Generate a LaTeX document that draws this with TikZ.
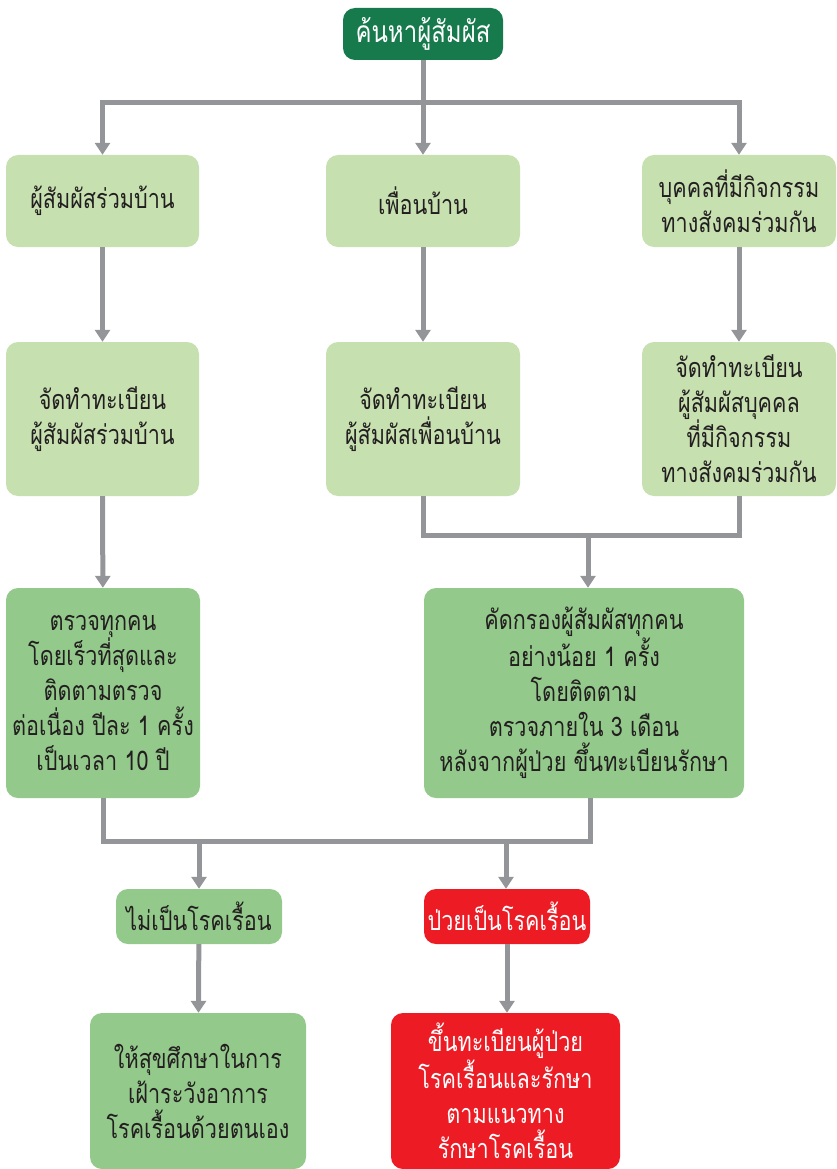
\documentclass[tikz,border=0pt]{standalone}
\usepackage{fontspec}
\usetikzlibrary{arrows.meta}
\newfontfamily\thai[Script=Thai,FakeStretch=0.8]{Loma}
\definecolor{dkgreen}{HTML}{177A4C}
\definecolor{ltgreen}{HTML}{C6E0B0}
\definecolor{mdgreen}{HTML}{93C98A}
\definecolor{rred}{HTML}{ED1C24}
\definecolor{lgray}{HTML}{939598}
\definecolor{txt}{HTML}{231F20}
\tikzset{
  box/.style={rounded corners=12pt, inner sep=0pt, align=center, text=txt,
    font=\thai\fontsize{27}{35}\selectfont},
  lbox/.style={box, fill=ltgreen},
  mbox/.style={box, fill=mdgreen},
  rbox/.style={box, fill=rred, text=white},
  conn/.style={draw=lgray, line width=5pt, line join=miter},
  arr/.style={conn, -{Triangle[width=15pt,length=12pt]}},
}
\begin{document}
\begin{tikzpicture}[x=1pt,y=-1pt]
\useasboundingbox (0,0) rectangle (837,1169);
\node[box, fill=dkgreen, text=white, minimum width=160pt, minimum height=52pt, font=\thai\fontsize{30}{35}\selectfont] (top) at (423,34) {ค้นหาผู้สัมผัส};
\node[lbox, minimum width=193pt, minimum height=92pt] (a1) at (102.5,201) {ผู้สัมผัสร่วมบ้าน};
\node[lbox, minimum width=194pt, minimum height=92pt] (a2) at (423,201) {เพื่อนบ้าน};
\node[lbox, minimum width=194pt, minimum height=92pt] (a3) at (739,201) {บุคคลที่มีกิจกรรม\\ทางสังคมร่วมกัน};
\node[lbox, minimum width=193pt, minimum height=154pt] (b1) at (102.5,419) {จัดทำทะเบียน\\ผู้สัมผัสร่วมบ้าน};
\node[lbox, minimum width=194pt, minimum height=154pt] (b2) at (423,419) {จัดทำทะเบียน\\ผู้สัมผัสเพื่อนบ้าน};
\node[lbox, minimum width=194pt, minimum height=154pt] (b3) at (739,419) {จัดทำทะเบียน\\ผู้สัมผัสบุคคล\\ที่มีกิจกรรม\\ทางสังคมร่วมกัน};
\node[mbox, minimum width=194pt, minimum height=210pt] (c1) at (103,693) {ตรวจทุกคน\\โดยเร็วที่สุดและ\\ติดตามตรวจ\\ต่อเนื่อง ปีละ 1 ครั้ง\\เป็นเวลา 10 ปี};
\node[mbox, minimum width=320pt, minimum height=210pt] (c2) at (584,693) {คัดกรองผู้สัมผัสทุกคน\\อย่างน้อย 1 ครั้ง\\โดยติดตาม\\ตรวจภายใน 3 เดือน\\หลังจากผู้ป่วย ขึ้นทะเบียนรักษา};
\node[mbox, minimum width=166pt, minimum height=55pt] (d1) at (199,916.5) {ไม่เป็นโรคเรื้อน};
\node[rbox, minimum width=166pt, minimum height=55pt] (d2) at (507,916.5) {ป่วยเป็นโรคเรื้อน};
\node[mbox, minimum width=216pt, minimum height=156pt] (e1) at (198,1091) {ให้สุขศึกษาในการ\\เฝ้าระวังอาการ\\โรคเรื้อนด้วยตนเอง};
\node[rbox, minimum width=229pt, minimum height=156pt] (e2) at (505.5,1091) {ขึ้นทะเบียนผู้ป่วย\\โรคเรื้อนและรักษา\\ตามแนวทาง\\รักษาโรคเรื้อน};
% connectors
\coordinate (j1) at (423,103);
\draw[conn] (top.south) -- (j1);
\draw[arr] (j1) -| (a1.north);
\draw[arr] (j1) -- (a2.north);
\draw[arr] (j1) -| (a3.north);
\draw[arr] (a1) -- (b1);
\draw[arr] (a2) -- (b2);
\draw[arr] (a3) -- (b3);
\draw[arr] (b1) -- (c1);
\coordinate (j2) at (588,535);
\draw[conn] (b2.south) |- (j2) -| (b3.south);
\draw[arr] (j2) -- (j2 |- c2.north);
\coordinate (j3) at (199,841);
\coordinate (j4) at (506,841);
\draw[conn] (c1.south) |- (j3) -- (j4) -| ([xshift=6pt]c2.south);
\draw[arr] (j3) -- (d1.north);
\draw[arr] (j4) -- (j4 |- d2.north);
\draw[arr] (d1) -- (e1);
\draw[arr] (d2) -- (d2 |- e2.north);
\end{tikzpicture}
\end{document}
